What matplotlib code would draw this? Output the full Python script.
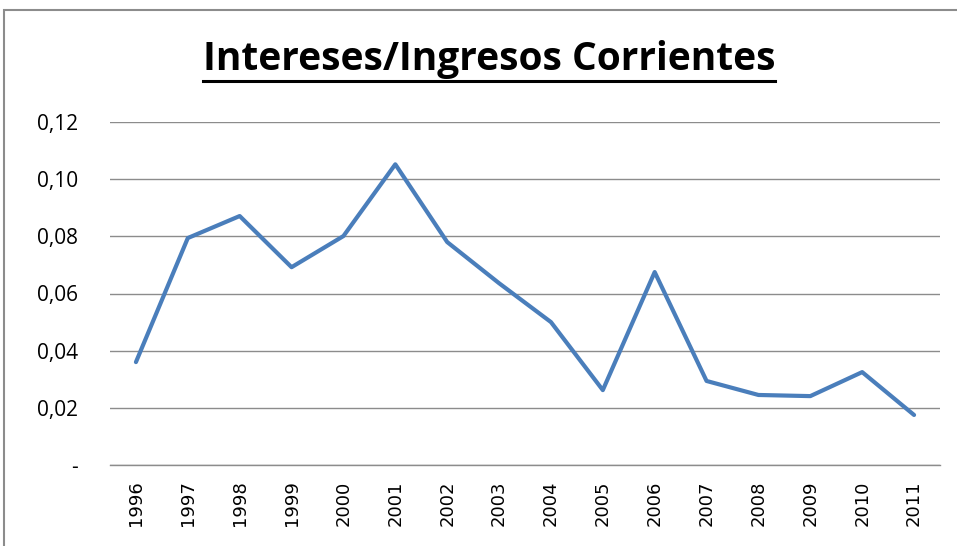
import matplotlib
matplotlib.use('Agg')
import matplotlib.pyplot as plt
from matplotlib.patches import Rectangle
from matplotlib.lines import Line2D
import numpy as np

years = ['1996', '1997', '1998', '1999', '2000', '2001', '2002', '2003',
         '2004', '2005', '2006', '2007', '2008', '2009', '2010', '2011']
ratio = [0.0360, 0.0794, 0.0871, 0.0692, 0.0801, 0.1052, 0.0780, 0.0636,
         0.0500, 0.0262, 0.0675, 0.0294, 0.0245, 0.0241, 0.0325, 0.0175]
yticks = [0, 0.02, 0.04, 0.06, 0.08, 0.10, 0.12]
ytick_labels = ['-', '0,02', '0,04', '0,06', '0,08', '0,10', '0,12']

W, H = 957, 546
fig = plt.figure(figsize=(W / 100, H / 100), dpi=100)
fig.patch.set_facecolor('white')

# chart frame (runs off the right and bottom edge like the screenshot)
fig.patches.append(Rectangle((4 / W, -0.05), 1.0, 1 - 10 / H + 0.05,
                             transform=fig.transFigure, fill=False,
                             edgecolor='#8c8c8c', linewidth=1.5))

ax = fig.add_axes([110 / W, 1 - 465 / H, 830 / W, (465 - 122) / H])
x = np.arange(len(years))
ax.plot(x, ratio, color='#4a7ebb', linewidth=3.0, solid_joinstyle='round',
        solid_capstyle='round', zorder=3)

ax.set_xlim(-0.5, len(years) - 0.5)
ax.set_ylim(0, 0.12)
ax.set_yticks(yticks)
ax.set_yticklabels(ytick_labels, fontsize=15, family='Open Sans')
ax.set_xticks(x)
ax.set_xticklabels(years, rotation=90, fontsize=13, family='DejaVu Sans')
ax.tick_params(length=0, pad=23, axis='y')
ax.tick_params(length=0, pad=11, axis='x')
ax.grid(axis='y', color='#8c8c8c', linewidth=1)
ax.set_axisbelow(True)
for s in ['top', 'right', 'left']:
    ax.spines[s].set_visible(False)
ax.spines['bottom'].set_color('#8c8c8c')
ax.spines['bottom'].set_linewidth(1)

# title with underline
title = fig.text(489 / W, 1 - 70 / H, 'Intereses/Ingresos Corrientes',
                 ha='center', va='baseline', fontsize=28, fontweight='bold',
                 family='Open Sans')
fig.canvas.draw()
bb = title.get_window_extent(fig.canvas.get_renderer())
uy = 1 - 81 / H
fig.lines.append(Line2D([bb.x0 / W, bb.x1 / W], [uy, uy],
                        transform=fig.transFigure, color='black', linewidth=2.2))

fig.savefig('out.png', dpi=100)
